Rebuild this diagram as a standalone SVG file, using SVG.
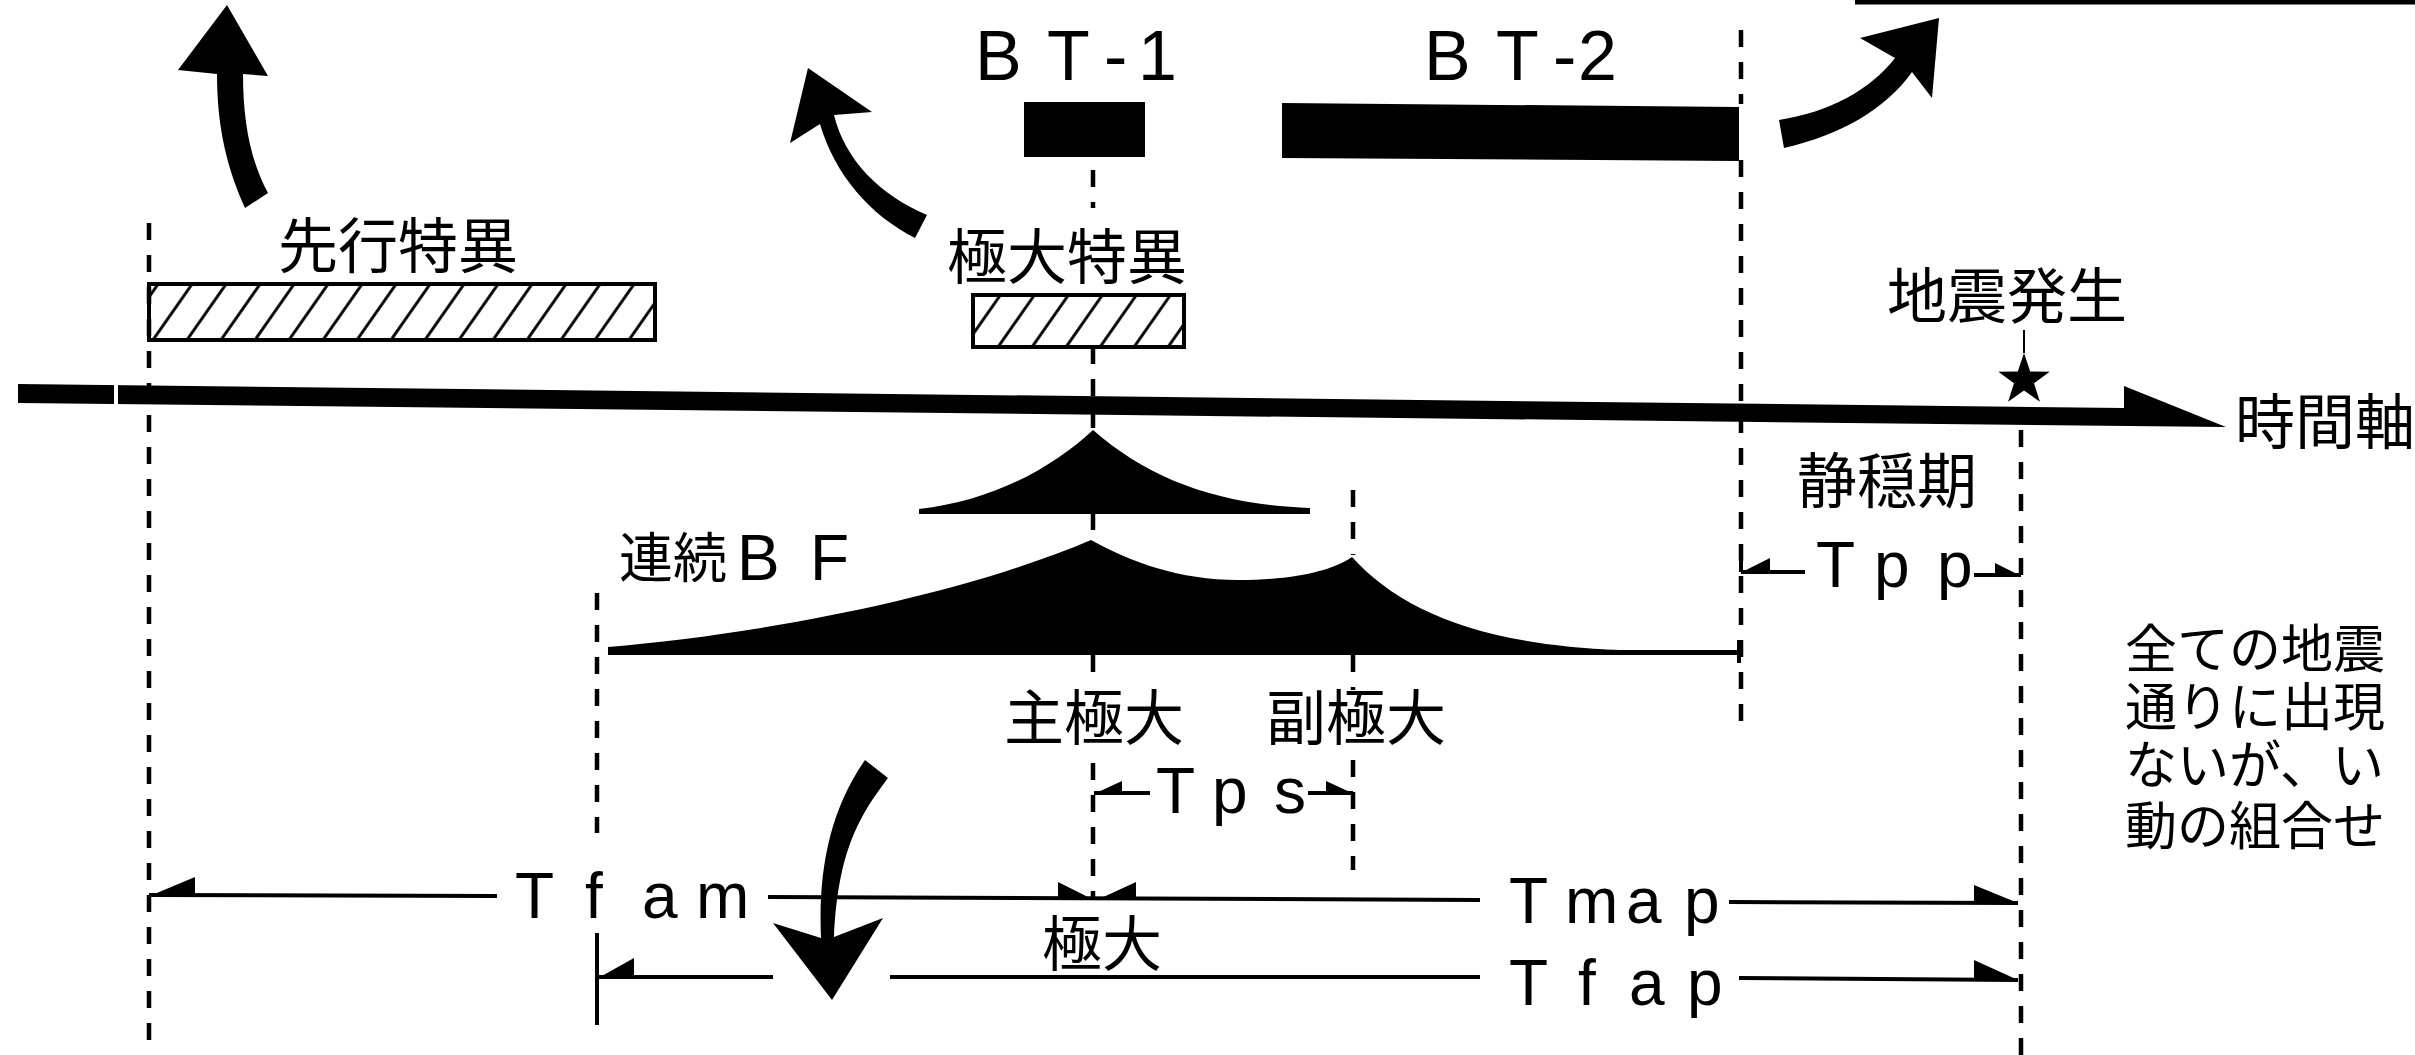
<svg xmlns="http://www.w3.org/2000/svg" width="2415" height="1055" viewBox="0 0 2415 1055">
<defs>
<style>
.dash{fill:none;stroke:#000;stroke-width:4.5;stroke-dasharray:17 15}
.dim{fill:none;stroke:#000;stroke-width:4}
.blk{fill:#000;stroke:none}
.jp{font-family:"Noto Sans CJK JP","Noto Sans CJK SC",sans-serif;font-size:60px;fill:#000}
.jps{font-family:"Liberation Sans","Noto Sans CJK JP","Noto Sans CJK SC",sans-serif;font-size:52px;fill:#000}
.lat{font-family:"Liberation Sans",Arial,sans-serif;font-size:64px;fill:#000}
.bt{font-family:"Liberation Sans",Arial,sans-serif;font-size:70px;fill:#000}
.hatch{fill:url(#hatch);stroke:#000;stroke-width:4}
</style>
<pattern id="hatch" patternUnits="userSpaceOnUse" width="34" height="60" patternTransform="skewX(-35)">
<line x1="17" y1="-5" x2="17" y2="65" stroke="#000" stroke-width="3.5"/>
</pattern>
</defs>
<rect width="2415" height="1055" fill="#fff"/>

<g id="connectors">
<path class="dash" d="M149,223 V1055"/>
<path class="dash" d="M597,593 V833"/>
<path class="dim" d="M597,933 V1025"/>
<path class="dash" d="M1093,170 V208 M1093,347 V430 M1093,513 V540 M1093,655 V685 M1093,763 V900"/>
<path class="dash" d="M1353,490 V555 M1353,655 V690 M1353,760 V870"/>
<path class="dash" d="M1741,30 V104 M1741,160 V728"/>
<path class="dash" d="M2021,430 V1055"/>
<path d="M2024,330 V353" stroke="#000" stroke-width="2"/>
<path d="M1855,2 H2415" stroke="#000" stroke-width="5"/>
<!-- time axis -->
<polygon class="blk" points="18,384 2124,408 2124,386 2226,427 18,403"/>
<rect x="114" y="380" width="4" height="26" fill="#fff"/>
<!-- dimension lines -->
<path class="dim" d="M149,895 L497,896 M768,897 L1480,900 M1729,902 L2018,903"/>
<path class="dim" d="M597,977 L773,977 M890,977 L1480,977 M1739,978 L2018,980"/>
<path class="dim" d="M1094,793 H1150 M1308,793 H1353"/>
<path class="dim" d="M1741,548 V572 M1741,572 H1805 M1974,575 H2021"/>
<path class="dim" d="M1739,640 V663"/>
<polygon class="blk" points="152,895 195,877 195,895"/>
<polygon class="blk" points="600,977 634,958 634,977"/>
<polygon class="blk" points="2018,903 1974,885 1974,903"/>
<polygon class="blk" points="2018,980 1974,960 1974,980"/>
<polygon class="blk" points="1094,900 1058,882 1058,900"/>
<polygon class="blk" points="1097,900 1136,882 1136,900"/>
<polygon class="blk" points="1096,793 1122,781 1122,793"/>
<polygon class="blk" points="1352,793 1326,781 1326,793"/>
<polygon class="blk" points="1742,572 1770,558 1770,572"/>
<polygon class="blk" points="2019,575 1995,563 1995,575"/>
<!-- curved arrows -->
<path class="blk" d="M227,5 L268,76 L243,74 C243,120 250,160 268,193 L245,208 C228,170 217,130 217,74 L178,70 Z"/>
<path class="blk" d="M808,68 L872,112 L834,115 C845,160 880,195 927,215 L915,238 C870,215 835,175 820,124 L790,143 Z"/>
<path class="blk" d="M1779,120 C1830,112 1870,90 1895,58 L1860,38 L1939,18 L1932,98 L1912,72 C1885,110 1840,135 1784,148 Z"/>
<path class="blk" d="M865,760 L888,778 C860,815 838,850 834,937 L883,918 L832,1000 L773,923 L821,938 C818,870 830,810 865,760 Z"/>
</g>

<g id="senko">
<text class="jp" x="278" y="268">先行特異</text>
<rect class="hatch" x="149" y="284" width="506" height="56"/>
</g>
<g id="kyokudai-tokui">
<text class="jp" x="947" y="279">極大特異</text>
<rect class="hatch" x="973" y="295" width="211" height="52"/>
</g>
<g id="bt1">
<text class="bt" x="975 1047 1104 1138" y="80">BT-1</text>
<rect class="blk" x="1024" y="102" width="121" height="55"/>
</g>
<g id="bt2">
<text class="bt" x="1424 1496 1553 1578" y="80">BT-2</text>
<polygon class="blk" points="1282,103 1739,107 1739,161 1282,158"/>
</g>
<g id="jishin">
<text class="jp" x="1887" y="318">地震発生</text>
<polygon class="blk" points="2024,353 2030.2,371.5 2049.7,371.7 2034,383.2 2039.9,401.8 2024,390.5 2008.1,401.8 2014,383.2 1998.3,371.7 2017.8,371.5"/>
</g>
<g id="jikanjiku">
<text class="jp" x="2235" y="444">時間軸</text>
</g>
<g id="seionki">
<text class="jp" x="1797" y="503">静穏期</text>
<text class="lat" x="1816 1874 1937" y="587">Tpp</text>
</g>
<g id="hump-small">
<path class="blk" d="M919,514 L919,509 C990,501 1050,470 1093,430 C1150,480 1220,505 1310,508 L1310,514 Z"/>
</g>
<g id="hump-bf">
<text class="jp" x="619" y="578" style="font-size:54px">連続<tspan class="lat" x="737" y="580">B</tspan><tspan class="lat" x="810" y="580">F</tspan></text>
<path class="blk" d="M608,651 L608,647 C750,635 950,600 1091,540 C1130,562 1180,580 1238,580 C1290,580 1330,572 1352,557 C1400,610 1480,645 1620,650 L1739,650 L1739,655 L608,655 Z"/>
</g>
<g id="shukyokudai">
<text class="jp" x="1004" y="740">主極大</text>
</g>
<g id="fukukyokudai">
<text class="jp" x="1266" y="740">副極大</text>
</g>
<g id="tps">
<text class="lat" x="1156 1212 1274" y="813">Tps</text>
</g>
<g id="tfam">
<text class="lat" x="515 585 642 696" y="918">Tfam</text>
</g>
<g id="tmap">
<text class="lat" x="1509 1565 1626 1684" y="923">Tmap</text>
</g>
<g id="kyokudai">
<text class="jp" x="1042" y="966">極大</text>
</g>
<g id="tfap">
<text class="lat" x="1509 1578 1629 1687" y="1005">Tfap</text>
</g>
<g id="note">
<text class="jps"><tspan x="2125" y="668">全ての地震</tspan><tspan x="2125" y="726">通りに出現</tspan><tspan x="2125" y="784">ないが、い</tspan><tspan x="2125" y="845">動の組合せ</tspan></text>
</g>
</svg>
